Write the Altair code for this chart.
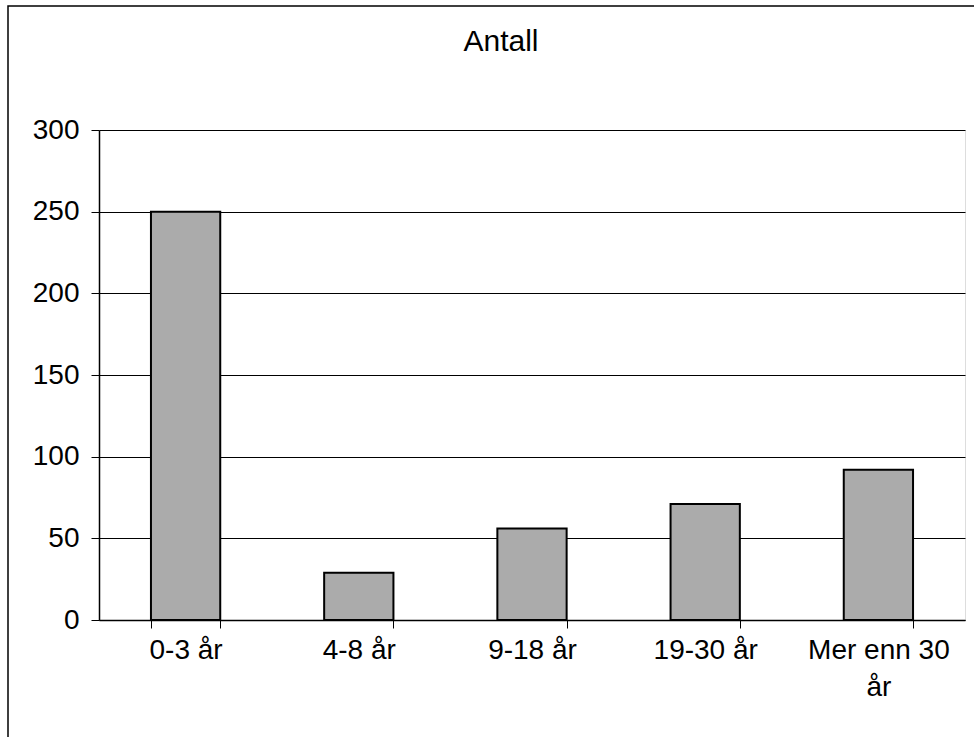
import altair as alt
import pandas as pd

categories = ["0-3 år", "4-8 år", "9-18 år", "19-30 år", "Mer enn 30 år"]
values = [250, 29, 56, 71, 92]
y_ticks = [0, 50, 100, 150, 200, 250, 300]

df = pd.DataFrame({"kategori": categories, "antall": values})
FONT = "Liberation Sans"

bars = alt.Chart(df).mark_bar(
    color="#ababab", stroke="black", strokeWidth=2
).encode(
    x=alt.X(
        "kategori:N", sort=categories, title=None,
        scale=alt.Scale(paddingInner=0.6, paddingOuter=0.3),
        axis=alt.Axis(
            labelAngle=0, labelFontSize=28, labelFont=FONT, labelColor="black",
            labelPadding=8, tickBand="extent", tickSize=8, tickColor="black",
            domainColor="black", domainWidth=1.5, grid=False,
            labelLineHeight=37, labelBaseline="top",
            labelExpr="datum.label == 'Mer enn 30 år' ? ['Mer enn 30', 'år'] : datum.label",
        ),
    ),
    y=alt.Y(
        "antall:Q", title=None,
        scale=alt.Scale(domain=[0, 300], nice=False),
        axis=alt.Axis(
            values=y_ticks, labelFontSize=28, labelFont=FONT, labelColor="black",
            labelPadding=12, tickSize=8, tickColor="black", domainColor="black",
            domainWidth=1.5, grid=True, gridColor="black", gridWidth=1, gridOpacity=1,
        ),
    ),
)

frame_df = pd.DataFrame({"f": [0]})
frame = alt.Chart(frame_df).mark_rect(
    fill=None, stroke="black", strokeWidth=1.5, clip=False
).encode(
    x=alt.value(-91), x2=alt.value(900), y=alt.value(-124), y2=alt.value(650)
)

chart = alt.layer(frame, bars).properties(
    width=866, height=490,
    title=alt.Title("Antall", fontSize=30, font=FONT, fontWeight="normal",
                    color="black", anchor="middle", dx=-31, offset=-76,
                    baseline="alphabetic"),
    autosize=alt.AutoSizeParams(type="none"),
    padding={"left": 99, "top": 130, "right": 9, "bottom": 117},
).configure_view(stroke="black", strokeWidth=1.5).configure(background="white")

chart.save("out.html", embed_options={"renderer": "svg", "actions": False})
